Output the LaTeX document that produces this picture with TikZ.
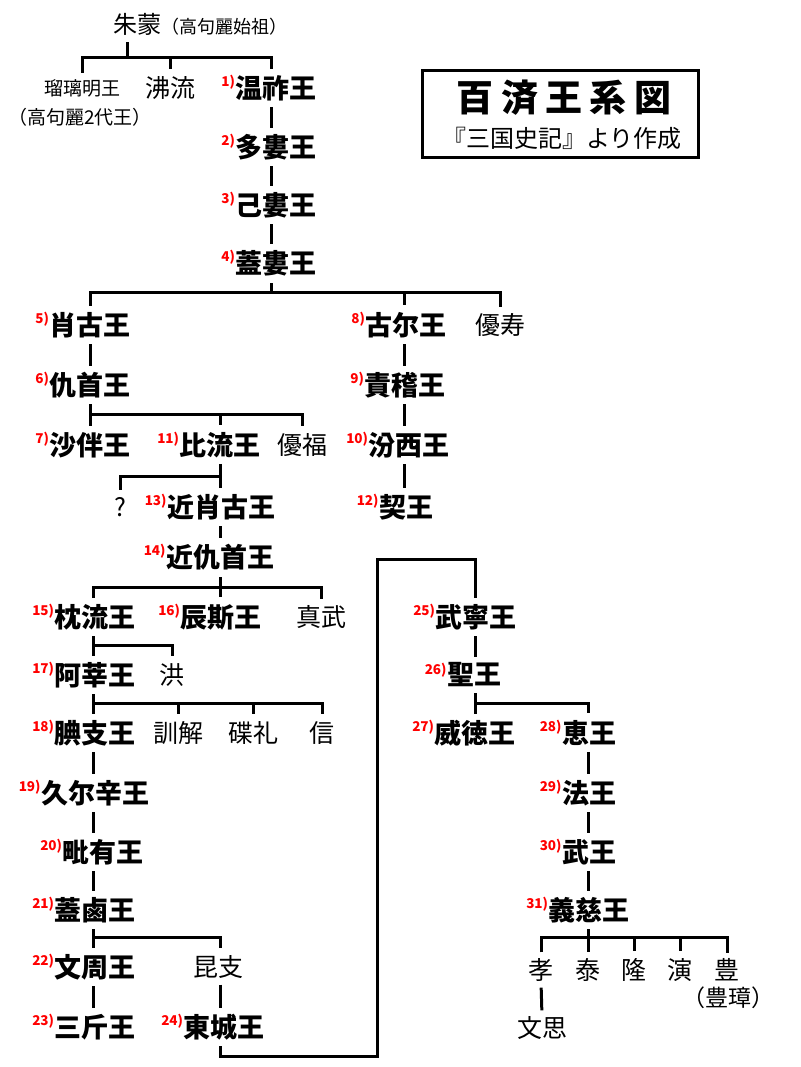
\documentclass[tikz,border=0pt]{standalone}
\usepackage{fontspec}
\setmainfont{Noto Sans CJK JP}
\newfontfamily\titlefont[LetterSpace=20]{Noto Sans CJK JP}
\usetikzlibrary{calc}
\tikzset{
	king/.style={inner sep=0pt, font=\bfseries\fontsize{27}{27}\selectfont},
	kin/.style={inner sep=0pt, font=\fontsize{25}{25}\selectfont},
	aside/.style={inner sep=0pt, font=\fontsize{19}{19}\selectfont},
	reign/.style={inner sep=0pt, anchor=north east, text=red, font=\bfseries\fontsize{13.5}{13.5}\selectfont},
	barline/.style={line width=3pt},
	link/.style={line width=3pt, shorten <=6pt, shorten >=6pt},
	drop/.style={line width=3pt, shorten >=7pt},
	stub/.style={line width=3pt, shorten <=7pt},
}
\def\regnal(#1:#2){\node[reign] (n#1) at (#1.north west) {#2)};}

\begin{document}
\begin{tikzpicture}[x=1pt, y=-1pt]
		%%%%% START %%%%%
		\useasboundingbox (0, 0) rectangle (800, 1067);
		
		\coordinate (colA) at (271, 0);
		\coordinate (colB) at (90, 0);
		\coordinate (colC) at (404, 0);
		\coordinate (colD) at (220, 0);
		\coordinate (colE) at (93, 0);
		\coordinate (colG) at (475, 0);
		\coordinate (colH) at (588, 0);
		\coordinate (colI) at (541, 0);
		
		\coordinate (b1) at (0, 58);
		\coordinate (b2) at (0, 292);
		\coordinate (b3) at (0, 414);
		\coordinate (b4) at (0, 476);
		\coordinate (b5) at (0, 587);
		\coordinate (b6) at (0, 645);
		\coordinate (b7) at (0, 703);
		\coordinate (b8) at (0, 937);
		\coordinate (turnlow) at (377, 1056);
		\coordinate (turnhigh) at (377, 559);
		
		\draw[line width=3pt] (422, 71) rectangle (698, 158);
		\node[inner sep=0pt, font=\titlefont\bfseries\fontsize{37}{37}\selectfont] (title) at (564, 98) {百済王系図};
		\node[inner sep=0pt, font=\fontsize{24}{24}\selectfont] (source) at (562, 138) {『三国史記』より作成};
		
		\node[kin, font=\fontsize{24}{24}\selectfont] (jumong) at (137, 24) {朱蒙};
		\node[inner sep=0pt, anchor=base west, font=\fontsize{18}{18}\selectfont] (jumongnote) at (jumong.base east) {（高句麗始祖）};
		
		\node[aside] (yuri) at (82, 88) {瑠璃明王};
		\node[aside] (yurinote) at (80, 117) {（高句麗2代王）};
		\node[kin] (biryu) at (170, 88) {沸流};
		\node[king] (k1) at (276, 88) {温祚王}; \regnal(k1:1)
		\node[king] (k2) at (276, 147) {多婁王}; \regnal(k2:2)
		\node[king] (k3) at (276, 205) {己婁王}; \regnal(k3:3)
		\node[king] (k4) at (276, 263) {蓋婁王}; \regnal(k4:4)
		
		\node[king] (k5) at (90, 325) {肖古王}; \regnal(k5:5)
		\node[king] (k8) at (406, 325) {古尔王}; \regnal(k8:8)
		\node[kin] (yuju) at (500, 325) {優寿};
		\node[king] (k6) at (90, 385) {仇首王}; \regnal(k6:6)
		\node[king] (k9) at (405, 385) {責稽王}; \regnal(k9:9)
		\node[king] (k7) at (90, 445) {沙伴王}; \regnal(k7:7)
		\node[king] (k11) at (220, 445) {比流王}; \regnal(k11:11)
		\node[kin] (ufuku) at (302, 445) {優福};
		\node[king] (k10) at (409, 445) {汾西王}; \regnal(k10:10)
		\node[kin] (unknown) at (120, 507) {?};
		\node[king] (k13) at (221, 507) {近肖古王}; \regnal(k13:13)
		\node[king] (k12) at (406, 507) {契王}; \regnal(k12:12)
		\node[king] (k14) at (220, 557) {近仇首王}; \regnal(k14:14)
		
		\node[king] (k15) at (95, 617) {枕流王}; \regnal(k15:15)
		\node[king] (k16) at (221, 617) {辰斯王}; \regnal(k16:16)
		\node[kin] (jinmu) at (321, 617) {真武};
		\node[king] (k17) at (95, 675) {阿莘王}; \regnal(k17:17)
		\node[kin] (hong) at (172, 675) {洪};
		\node[king] (k18) at (95, 733) {腆支王}; \regnal(k18:18)
		\node[kin] (hunhae) at (178, 733) {訓解};
		\node[kin] (seolrye) at (253, 733) {碟礼};
		\node[kin] (sin) at (322, 733) {信};
		\node[king] (k19) at (95, 793) {久尔辛王}; \regnal(k19:19)
		\node[king] (k20) at (103, 852) {毗有王}; \regnal(k20:20)
		\node[king] (k21) at (95, 910) {蓋鹵王}; \regnal(k21:21)
		\node[king] (k22) at (95, 967) {文周王}; \regnal(k22:22)
		\node[kin] (gonji) at (218, 967) {昆支};
		\node[king] (k23) at (95, 1027) {三斤王}; \regnal(k23:23)
		\node[king] (k24) at (224, 1027) {東城王}; \regnal(k24:24)
		
		\node[king] (k25) at (476, 617) {武寧王}; \regnal(k25:25)
		\node[king] (k26) at (474, 675) {聖王}; \regnal(k26:26)
		\node[king] (k27) at (475, 733) {威徳王}; \regnal(k27:27)
		\node[king] (k28) at (589, 733) {恵王}; \regnal(k28:28)
		\node[king] (k29) at (589, 793) {法王}; \regnal(k29:29)
		\node[king] (k30) at (589, 852) {武王}; \regnal(k30:30)
		\node[king] (k31) at (589, 910) {義慈王}; \regnal(k31:31)
		\node[kin] (hyo) at (541, 970) {孝};
		\node[kin] (tae) at (588, 970) {泰};
		\node[kin] (yung) at (634, 970) {隆};
		\node[kin] (yeon) at (680, 970) {演};
		\node[kin] (pung) at (727, 970) {豊};
		\node[inner sep=0pt, font=\fontsize{23}{23}\selectfont] (pungnote) at (728, 998) {（豊璋）};
		\node[kin] (munsa) at (542, 1028) {文思};
		
		% first generations
		\draw[stub] ([xshift=-10pt]jumong.south) -- ([xshift=-10pt]jumong.south |- b1);
		\draw[link] (yuri.north) |- (colA |- b1) -- (k1.north -| colA);
		\draw[drop] (biryu.north |- b1) -- (biryu.north);
		\draw[link] (k1.south -| colA) -- (k2.north -| colA);
		\draw[link] (k2.south -| colA) -- (k3.north -| colA);
		\draw[link] (k3.south -| colA) -- (k4.north -| colA);
		
		\draw[stub] (k4.south -| colA) -- (colA |- b2);
		\draw[link] (k5.north -| colB) |- (yuju.north |- b2) -- (yuju.north);
		\draw[drop] (colC |- b2) -- (k8.north -| colC);
		\draw[link] (k5.south -| colB) -- (k6.north -| colB);
		\draw[link] (k8.south -| colC) -- (k9.north -| colC);
		\draw[link] (k9.south -| colC) -- (k10.north -| colC);
		\draw[link] (k10.south -| colC) -- (k12.north -| colC);
		
		\draw[link] (k6.south -| colB) -- (k7.north -| colB);
		\draw[drop] (colB |- b3) -| (ufuku.north);
		\draw[drop] (colD |- b3) -- (k11.north -| colD);
		\draw[link] (k11.south -| colD) -- (k13.north -| colD);
		\draw[drop] (colD |- b4) -| (unknown.north);
		\draw[link] (k13.south -| colD) -- (k14.north -| colD);
		
		% later kings
		\draw[stub] (k14.south -| colD) -- (colD |- b5);
		\draw[link] (k15.north -| colE) |- (jinmu.north |- b5) -- (jinmu.north);
		\draw[drop] (colD |- b5) -- (k16.north -| colD);
		\draw[link] (k15.south -| colE) -- (k17.north -| colE);
		\draw[drop] (colE |- b6) -| (hong.north);
		\draw[link] (k17.south -| colE) -- (k18.north -| colE);
		\draw[drop] (colE |- b7) -| (sin.north);
		\draw[drop] (hunhae.north |- b7) -- (hunhae.north);
		\draw[drop] (seolrye.north |- b7) -- (seolrye.north);
		\draw[link] (k18.south -| colE) -- (k19.north -| colE);
		\draw[link] (k19.south -| colE) -- (k20.north -| colE);
		\draw[link] (k20.south -| colE) -- (k21.north -| colE);
		\draw[link] (k21.south -| colE) -- (k22.north -| colE);
		\draw[drop] (colE |- b8) -| (gonji.north -| colD);
		\draw[link] (k22.south -| colE) -- (k23.north -| colE);
		\draw[link] (gonji.south -| colD) -- (k24.north -| colD);
		
		\draw[link] (k24.south -| colD) |- (turnlow) -- (turnhigh) -| (k25.north -| colG);
		\draw[link] (k25.south -| colG) -- (k26.north -| colG);
		\draw[link] (k26.south -| colG) -- (k27.north -| colG);
		\draw[drop] (colG |- b7) -| (k28.north -| colH);
		\draw[link] (k28.south -| colH) -- (k29.north -| colH);
		\draw[link] (k29.south -| colH) -- (k30.north -| colH);
		\draw[link] (k30.south -| colH) -- (k31.north -| colH);
		\draw[link] (k31.south -| colH) -- (tae.north);
		\draw[link] (hyo.north) |- (pung.north |- b8) -- (pung.north);
		\draw[drop] (yung.north |- b8) -- (yung.north);
		\draw[drop] (yeon.north |- b8) -- (yeon.north);
		\draw[link] (hyo.south) -- (munsa.north);
		
		%%%%% END %%%%%
	\end{tikzpicture}
\end{document}
